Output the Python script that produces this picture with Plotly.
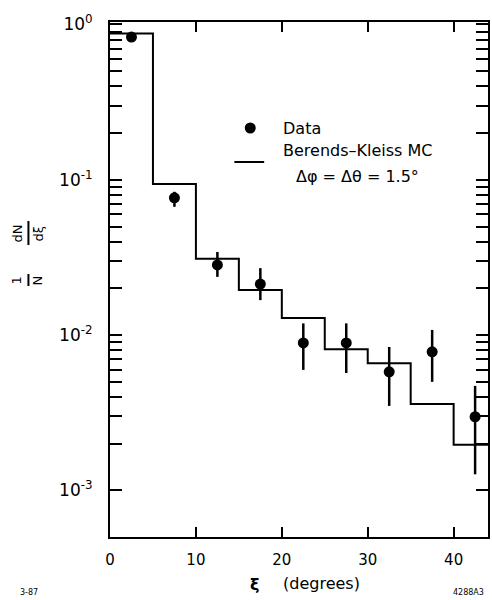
import numpy as np
import plotly.graph_objects as go

# Monte Carlo histogram: bin edges (degrees) and contents
bin_edges = [0, 5, 10, 15, 20, 25, 30, 35, 40, 44]
mc_values = [0.875, 0.094, 0.031, 0.0195, 0.0129, 0.0081, 0.0066, 0.0036, 0.00197]

# Measured points with asymmetric errors
xi_data = [2.5, 7.5, 12.5, 17.5, 22.5, 27.5, 32.5, 37.5, 42.5]
dn_data = [0.83, 0.0765, 0.0283, 0.0213, 0.0089, 0.0089, 0.0058, 0.0078, 0.00298]
err_hi = [0.84, 0.0837, 0.0343, 0.0270, 0.0119, 0.0119, 0.00838, 0.0108, 0.00471]
err_lo = [0.82, 0.0670, 0.0237, 0.0168, 0.00597, 0.0057, 0.0035, 0.0050, 0.00127]

x_ticks = [0, 10, 20, 30, 40]
decades = [-3, -2, -1, 0]

FONT = "DejaVu Sans"
W, H = 492, 600
ML, MR, MT, MB = 110, 2, 22, 63
PW, PH = W - ML - MR, H - MT - MB


def px_x(p):
    return (p - ML) / PW


def px_y(p):
    return (H - MB - p) / PH


def label(text, x, y, size, angle=0):
    return dict(text=text, x=px_x(x), y=px_y(y), xref="paper", yref="paper",
                xanchor="center", yanchor="middle", showarrow=False,
                textangle=angle, font=dict(family=FONT, size=size, color="black"))


fig = go.Figure()

# step outline of the MC prediction
fig.add_trace(go.Scatter(
    x=bin_edges,
    y=mc_values + [mc_values[-1]],
    mode="lines",
    line=dict(color="black", width=2, shape="hv"),
    name="Berends\u2013Kleiss MC",
    showlegend=False,
))

fig.add_trace(go.Scatter(
    x=xi_data,
    y=dn_data,
    mode="markers",
    marker=dict(color="black", size=11),
    error_y=dict(
        type="data", symmetric=False,
        array=[h - v for h, v in zip(err_hi, dn_data)],
        arrayminus=[v - l for l, v in zip(err_lo, dn_data)],
        color="black", thickness=2.5, width=0,
    ),
    name="Data",
    showlegend=False,
))

# log tick positions: every integer multiple within each decade
tickvals, ticktext = [], []
for d in decades:
    for m in range(1, 10):
        v = m * 10.0 ** d
        if v > 1.0:
            break
        tickvals.append(v)
        ticktext.append(f"10<sup>{d}</sup>" if m == 1 else "")

fig.update_xaxes(
    range=[0, 44],
    tickvals=x_ticks,
    ticks="inside", ticklen=10, tickwidth=1.5, tickcolor="black",
    showline=True, linecolor="black", linewidth=2, mirror="ticks",
    showgrid=False, zeroline=False,
    tickfont=dict(family=FONT, size=15, color="black"),
    ticklabelstandoff=8,
)
fig.update_yaxes(
    type="log",
    range=[-3.30, 0.016],
    tickvals=tickvals, ticktext=ticktext,
    ticks="inside", ticklen=12, tickwidth=1.5, tickcolor="black",
    showline=True, linecolor="black", linewidth=2, mirror="ticks",
    showgrid=False, zeroline=False,
    tickfont=dict(family=FONT, size=17, color="black"),
    ticklabelstandoff=12,
)

ann = []
shapes = []

# vertical axis label drawn as two rotated fractions
for num, den, cy, half, xn, xd in [("dN", "d\u03be", 233, 12, 17, 38),
                                   ("1", "N", 280, 6, 16, 37)]:
    ann.append(label(num, xn, cy, 13, -90))
    ann.append(label(den, xd, cy, 13, -90))
    shapes.append(dict(type="line", xref="paper", yref="paper",
                       x0=px_x(28), x1=px_x(28), y0=px_y(cy - half), y1=px_y(cy + half),
                       line=dict(color="black", width=2)))

# key: filled dot for the data, short line for the MC
shapes.append(dict(type="circle", xref="paper", yref="paper",
                   x0=px_x(245.5), x1=px_x(256.5), y0=px_y(133.5), y1=px_y(122.5),
                   fillcolor="black", line=dict(color="black", width=0)))
shapes.append(dict(type="line", xref="paper", yref="paper",
                   x0=px_x(235), x1=px_x(265), y0=px_y(162), y1=px_y(162),
                   line=dict(color="black", width=2)))
ann.append(dict(label("Data", 282, 128, 16), xanchor="left"))
ann.append(dict(label("Berends\u2013Kleiss MC", 282, 150, 16), xanchor="left"))
ann.append(dict(label("\u0394\u03c6 = \u0394\u03b8 = 1.5\u00b0", 295, 176, 16), xanchor="left"))

ann.append(label("<b>\u03be</b>", 255, 584, 16))
ann.append(label("(degrees)", 323, 583, 16))
ann.append(label("3-87", 29, 592, 8))
ann.append(label("4288A3", 470, 592, 8))

fig.update_layout(
    width=W, height=H,
    margin=dict(l=ML, r=MR, t=MT, b=MB, pad=0),
    paper_bgcolor="white", plot_bgcolor="white",
    showlegend=False,
    annotations=ann,
    shapes=shapes,
)

fig.write_html("out.html")
